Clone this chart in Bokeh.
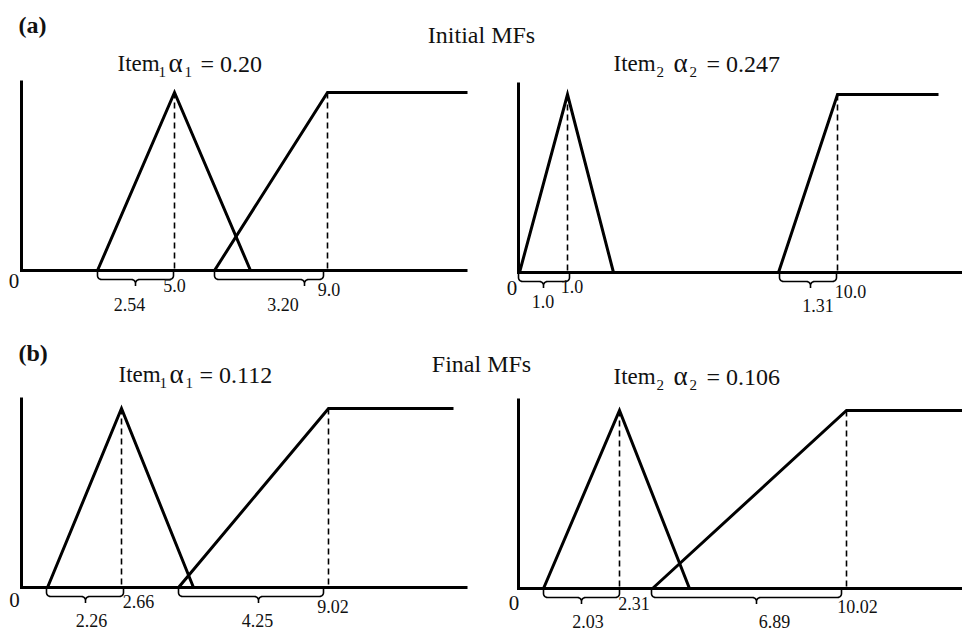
import numpy as np
from bokeh.plotting import figure
from bokeh.models import Range1d
from bokeh.core.properties import value
from bokeh.embed import file_html
from bokeh.resources import INLINE

FONT = "Liberation Serif"
BASE_FIX = 0.37   # rendered alphabetic baseline sits lower by about this many em

# ---------------- data: schematic MF break-points (x along each panel axis) ----------------
TRI_MU = [0, 1, 0]          # triangle membership at its three break-points
TRAP_MU = [0, 1, 1]         # right-shoulder (trapezoid) membership

# (a) Initial MFs, Item1 (alpha1 = 0.20)
aL_tri_x = [76, 153, 229]
aL_trap_x = [193, 306, 446]
aL_axis_end = 446
aL_dash_x = [153, 306]
aL_braces = [(76, 152, 114), (193, 302, 283)]
aL_labels = ["0", "5.0", "2.54", "3.20", "9.0"]
aL_label_x = [-7.5, 153, 108, 261.5, 307.5]
aL_label_dy = [18, 22, 41, 41, 26]

# (a) Initial MFs, Item2 (alpha2 = 0.247)
aR_tri_x = [1, 49, 95]
aR_trap_x = [260, 319, 420]
aR_axis_end = 450
aR_dash_x = [49, 319]
aR_braces = [(0, 51, 25), (261, 318, 292)]
aR_labels = ["0", "1.0", "1.0", "1.31", "10.0"]
aR_label_x = [-6.5, 53.5, 24.5, 299.5, 332]
aR_label_dy = [23, 21, 36, 40, 26]

# (b) Final MFs, Item1 (alpha1 = 0.112)
bL_tri_x = [26, 100, 172]
bL_trap_x = [157, 307, 432]
bL_axis_end = 446
bL_dash_x = [100, 307]
bL_braces = [(25, 102, 64), (157, 302, 237)]
bL_labels = ["0", "2.66", "2.26", "4.25", "9.02"]
bL_label_x = [-7, 117, 70, 236, 311.5]
bL_label_dy = [20, 21, 39.5, 39.5, 26]

# (b) Final MFs, Item2 (alpha2 = 0.106)
bR_tri_x = [25, 101, 171]
bR_trap_x = [134, 328, 450]
bR_axis_end = 450
bR_dash_x = [101, 328]
bR_braces = [(25, 101, 63), (133, 323, 238)]
bR_labels = ["0", "2.31", "2.03", "6.89", "10.02"]
bR_label_x = [-4.5, 115.5, 69.5, 256, 339]
bR_label_dy = [22, 22, 39.5, 39.5, 25]

# ---------------- layout ----------------
W, H = 962, 631
X0, Y0 = 0, 0   # reference-picture coordinate of the figure's top-left corner

panels = {
    "aL": dict(ox=21, base=270, hmu=178, top=1.067, tri=aL_tri_x, trap=aL_trap_x, end=aL_axis_end,
               dash=aL_dash_x, braces=aL_braces, labels=aL_labels, lx=aL_label_x, ldy=aL_label_dy),
    "aR": dict(ox=518, base=272, hmu=178, top=1.067, tri=aR_tri_x, trap=aR_trap_x, end=aR_axis_end,
               dash=aR_dash_x, braces=aR_braces, labels=aR_labels, lx=aR_label_x, ldy=aR_label_dy),
    "bL": dict(ox=21, base=587, hmu=179, top=1.061, tri=bL_tri_x, trap=bL_trap_x, end=bL_axis_end,
               dash=bL_dash_x, braces=bL_braces, labels=bL_labels, lx=bL_label_x, ldy=bL_label_dy),
    "bR": dict(ox=518, base=588, hmu=178, top=1.067, tri=bR_tri_x, trap=bR_trap_x, end=bR_axis_end,
               dash=bR_dash_x, braces=bR_braces, labels=bR_labels, lx=bR_label_x, ldy=bR_label_dy),
}

p = figure(width=W, height=H, output_backend="svg", toolbar_location=None,
           x_range=Range1d(0, W), y_range=Range1d(0, H),
           x_axis_location=None, y_axis_location=None, min_border=0)
p.grid.visible = False
p.outline_line_color = None
p.background_fill_color = "white"
p.border_fill_color = "white"

xr, yr = {}, {}
for k, P in panels.items():
    xr[k] = Range1d(X0 - P["ox"], X0 + W - P["ox"])
    yr[k] = Range1d((P["base"] - (Y0 + H)) / P["hmu"], (P["base"] - Y0) / P["hmu"])
p.extra_x_ranges = xr
p.extra_y_ranges = yr


def brace_path(x0, x1, xt, d1=9.0, d2=15.5, r=4.0):
    """Curly brace below the baseline, in (x, pixels-below-baseline)."""
    xs, ys = [x0], [1.0]
    t = np.linspace(np.pi, np.pi / 2, 8)           # left end: from left to bottom
    xs += list(x0 + r + r * np.cos(t)); ys += list(d1 - r + r * np.sin(t))
    t = np.linspace(-np.pi / 2, 0, 8)               # into tip (from top to right)
    xs += list(xt - r + r * np.cos(t)); ys += list(d1 + r + r * np.sin(t))
    xs += [xt, xt]; ys += [d2, d1 + r]
    t = np.linspace(np.pi, 3 * np.pi / 2, 8)        # out of tip (from left to top)
    xs += list(xt + r + r * np.cos(t)); ys += list(d1 + r + r * np.sin(t))
    t = np.linspace(np.pi / 2, 0, 8)                # right end: from bottom to right
    xs += list(x1 - r + r * np.cos(t)); ys += list(d1 - r + r * np.sin(t))
    xs += [x1]; ys += [1.0]
    return xs, ys


for k, P in panels.items():
    kw = dict(x_range_name=k, y_range_name=k)
    # axes of the panel
    p.line([0, 0, P["end"]], [P["top"], 0, 0], line_width=3, line_color="black",
           line_join="miter", **kw)
    # membership functions
    p.line(P["tri"], TRI_MU, line_width=3, line_color="black", line_join="miter", **kw)
    p.line(P["trap"], TRAP_MU, line_width=3, line_color="black", line_join="miter", **kw)
    # dashed guide lines
    n = len(P["dash"])
    p.segment(x0=P["dash"], y0=[1] * n, x1=P["dash"], y1=[0] * n, line_width=1.6,
              line_color="black", line_dash="6 4", **kw)
    # braces
    bxs, bys = [], []
    for (a, b, t) in P["braces"]:
        bx, by = brace_path(a, b, t)
        bxs.append(bx)
        bys.append([-v / P["hmu"] for v in by])
    p.multi_line(bxs, bys, line_width=1.6, line_color="black", **kw)
    # numeric labels
    fsz = [21 if s == "0" else 18 for s in P["labels"]]
    p.text(x=P["lx"], y=[-(d - BASE_FIX * f) / P["hmu"] for d, f in zip(P["ldy"], fsz)],
           text=P["labels"], text_font=value(FONT), text_font_size=[f"{f}px" for f in fsz],
           text_align="center", text_baseline="alphabetic", text_color="#111111", **kw)


def fx(ix):
    return ix - X0


def fy(iy, fs):
    return H - (iy - BASE_FIX * fs - Y0)


# panel tags and headings
heads_text = ["(a)", "Initial MFs", "(b)", "Final MFs"]
heads_x = [18, 481, 18, 481]
heads_y = [33, 43, 361, 372]
heads_align = ["left", "center", "left", "center"]
heads_style = ["bold", "normal", "bold", "normal"]
for t, x, y, a, s in zip(heads_text, heads_x, heads_y, heads_align, heads_style):
    p.text(x=[fx(x)], y=[fy(y, 24)], text=[t], text_font=value(FONT),
           text_font_size="24px", text_font_style=s,
           text_align=a, text_baseline="alphabetic", text_color="#111111")

# "Item_i alpha_i = value" titles: (left x, baseline y, subscript, value, piece offsets)
item_titles = [
    (117, 72, "1", "= 0.20", [0, 41, 51, 67, 83]),
    (613, 72, "2", "= 0.247", [0, 43, 60, 76, 93]),
    (118, 383, "1", "= 0.112", [0, 41, 51, 67, 81]),
    (613, 385, "2", "= 0.106", [0, 43, 60, 76, 93]),
]
for (x, y, sub, val, offs) in item_titles:
    pieces = [("Item", 0, 23), (sub, 5, 15), ("\u03b1", 0, 27), (sub, 5, 15), (val, 0, 24)]
    for (txt, dy, fs), dx in zip(pieces, offs):
        p.text(x=[fx(x + dx)], y=[fy(y + dy, fs)], text=[txt], text_font=value(FONT),
               text_font_size=f"{fs}px", text_align="left", text_baseline="alphabetic",
               text_color="#111111")

open("out.html", "w").write(file_html(p, INLINE))
